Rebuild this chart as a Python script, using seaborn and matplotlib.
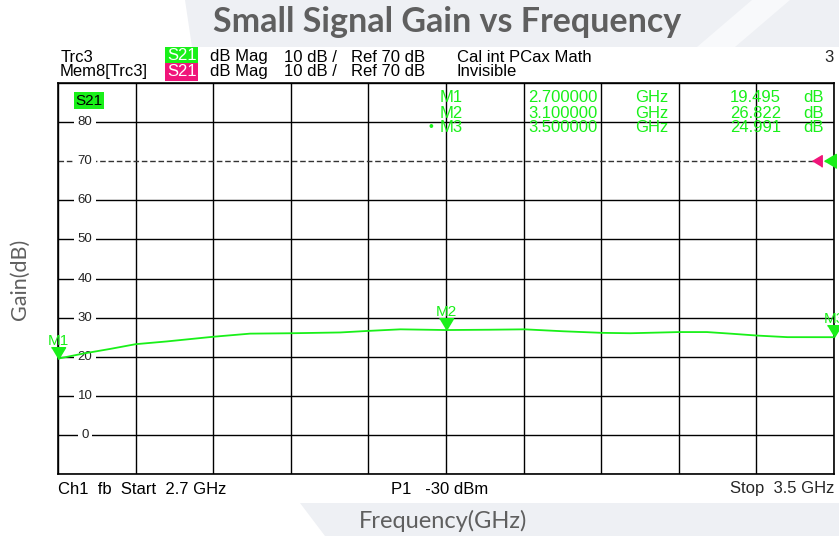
import matplotlib.pyplot as plt
import seaborn as sns
from matplotlib.patches import Polygon

sns.set_theme(style="white")
plt.rcParams['font.family'] = ['Liberation Sans', 'DejaVu Sans']

# trace
freq_ghz = [2.700, 2.726, 2.754, 2.780, 2.812, 2.860, 2.898, 2.941, 2.991, 3.020, 3.053, 3.100,
            3.145, 3.181, 3.221, 3.261, 3.290, 3.340, 3.369, 3.393, 3.421, 3.452, 3.500]
gain_db = [19.50, 20.8, 22.0, 23.2, 23.9, 25.1, 25.9, 26.0, 26.2, 26.6, 27.0, 26.82,
           26.9, 27.0, 26.5, 26.1, 26.0, 26.3, 26.3, 25.9, 25.4, 25.0, 24.99]

marker_names = ['M1', 'M2', 'M3']
marker_freq = [2.7, 3.1, 3.5]
marker_gain = [19.495, 26.822, 24.991]

y_labels = [80, 70, 60, 50, 40, 30, 20, 10, 0]
ref_level = 70

GREEN = '#19f019'
MAGENTA = '#f0157a'
GREY = '#5f5f5f'
FS = 12

W, H = 839, 536
def fx(x): return x / W
def fy(y): return 1 - y / H

fig = plt.figure(figsize=(8.39, 5.36), dpi=100)

# slide background pieces
fig.patches.append(Polygon([(fx(185), fy(0)), (fx(839), fy(0)), (fx(839), fy(47)), (fx(192), fy(47))],
                           transform=fig.transFigure, facecolor='#eef0f4', edgecolor='none', zorder=0))
fig.patches.append(Polygon([(fx(752), fy(0)), (fx(790), fy(0)), (fx(735), fy(47)), (fx(697), fy(47))],
                           transform=fig.transFigure, facecolor='#f8f9fb', edgecolor='none', zorder=0))
fig.patches.append(Polygon([(fx(300), fy(503)), (fx(839), fy(503)), (fx(839), fy(536)), (fx(325), fy(536))],
                           transform=fig.transFigure, facecolor='#eef0f4', edgecolor='none', zorder=0))

fig.text(fx(447), fy(22), 'Small Signal Gain vs Frequency', ha='center', va='center',
         fontsize=24.5, fontweight='bold', color=GREY, family=['Lato', 'DejaVu Sans'])
fig.text(fx(20), fy(279), 'Gain(dB)', ha='center', va='center', rotation=90,
         fontsize=15.5, color=GREY, family=['Lato', 'DejaVu Sans'])
fig.text(fx(443), fy(521), 'Frequency(GHz)', ha='center', va='center',
         fontsize=17, color=GREY, family=['Lato', 'DejaVu Sans'])

# header lines of the analyzer screen
hdr = dict(fontsize=FS, va='center', color='black')
fig.text(fx(61), fy(57), 'Trc3', **hdr)
fig.text(fx(60), fy(72), 'Mem8[Trc3]', **hdr)
fig.text(fx(167), fy(56), 'S21', fontsize=FS, va='center', color='white',
         bbox=dict(facecolor=GREEN, edgecolor='none', pad=1.2))
fig.text(fx(167), fy(72), 'S21', fontsize=FS, va='center', color='white',
         bbox=dict(facecolor=MAGENTA, edgecolor='none', pad=1.2))
for y in (57, 72):
    fig.text(fx(210), fy(y), 'dB Mag', **hdr)
    fig.text(fx(284), fy(y), '10 dB /', **hdr)
    fig.text(fx(351), fy(y), 'Ref 70 dB', **hdr)
fig.text(fx(457), fy(57), 'Cal int PCax Math', **hdr)
fig.text(fx(457), fy(72), 'Invisible', **hdr)
fig.text(fx(834), fy(57), '3', ha='right', fontsize=FS, va='center')

fig.text(fx(58), fy(489), 'Ch1  fb  Start  2.7 GHz', **hdr)
fig.text(fx(391), fy(489), 'P1   -30 dBm', **hdr)
fig.text(fx(834), fy(489), 'Stop  3.5 GHz', ha='right', fontsize=FS, va='center')

ax = fig.add_axes([fx(58), fy(474), (834 - 58) / W, (474 - 83) / H])
sns.lineplot(x=freq_ghz, y=gain_db, ax=ax, color=GREEN, lw=1.3, zorder=4)

ax.set_xlim(2.7, 3.5)
ax.set_ylim(-10, 90)
ax.set_xticks([2.7 + 0.08 * i for i in range(11)])
ax.set_yticks(range(-10, 91, 10))
ax.grid(True, color='black', lw=1)
ax.tick_params(length=0, labelleft=False, labelbottom=False)
for s in ax.spines.values():
    s.set_color('black')
    s.set_linewidth(1.2)
for t, gl in zip(ax.get_yticks(), ax.yaxis.get_gridlines()):
    if t == ref_level:
        gl.set_dashes((4, 2))
        gl.set_color('#333333')

for v in y_labels:
    ax.text(0.035, v, str(v), transform=ax.get_yaxis_transform(), ha='center', va='center',
            fontsize=9.5, color='#222222', zorder=3,
            bbox=dict(facecolor='white', edgecolor='none', pad=2.5))

ax.text(0.022, 0.955, 'S21', transform=ax.transAxes, fontsize=FS - 1, va='center', color='black',
        bbox=dict(facecolor=GREEN, edgecolor='none', pad=1.0))

# marker triangles, tip on the trace
tri_down = [(-1.2, 2), (1.2, 2), (0, 0)]
ax.plot(marker_freq, marker_gain, ls='none', marker=tri_down, ms=17, color=GREEN,
        clip_on=False, zorder=5)
for n, f, g in zip(marker_names, marker_freq, marker_gain):
    ax.annotate(n, (f, g), xytext=(0, 13), textcoords='offset points', ha='center', va='center',
                fontsize=11, color=GREEN, annotation_clip=False, zorder=5)

# reference level arrows on the right
tri_left = [(0, 0), (2, 1.2), (2, -1.2)]
yt = ax.get_yaxis_transform()
ax.plot([0.9716], [ref_level], transform=yt, marker=tri_left, ms=14, color=MAGENTA,
        clip_on=False, zorder=6)
ax.plot([0.987], [ref_level], transform=yt, marker=tri_left, ms=17, color=GREEN,
        clip_on=False, zorder=6)

# marker readout table
rows_y = [98, 113, 127]
for n, f, g, y in zip(marker_names, marker_freq, marker_gain, rows_y):
    t = dict(fontsize=FS, va='center', color=GREEN)
    fig.text(fx(440), fy(y), n, **t)
    fig.text(fx(528), fy(y), f'{f:.6f}', **t)
    fig.text(fx(635), fy(y), 'GHz', **t)
    fig.text(fx(781), fy(y), f'{g:.3f}', ha='right', fontsize=FS, va='center', color=GREEN)
    fig.text(fx(803), fy(y), 'dB', **t)
fig.text(fx(428), fy(rows_y[2]), '•', fontsize=10, va='center', color=GREEN)

fig.savefig('out.png', dpi=100)
